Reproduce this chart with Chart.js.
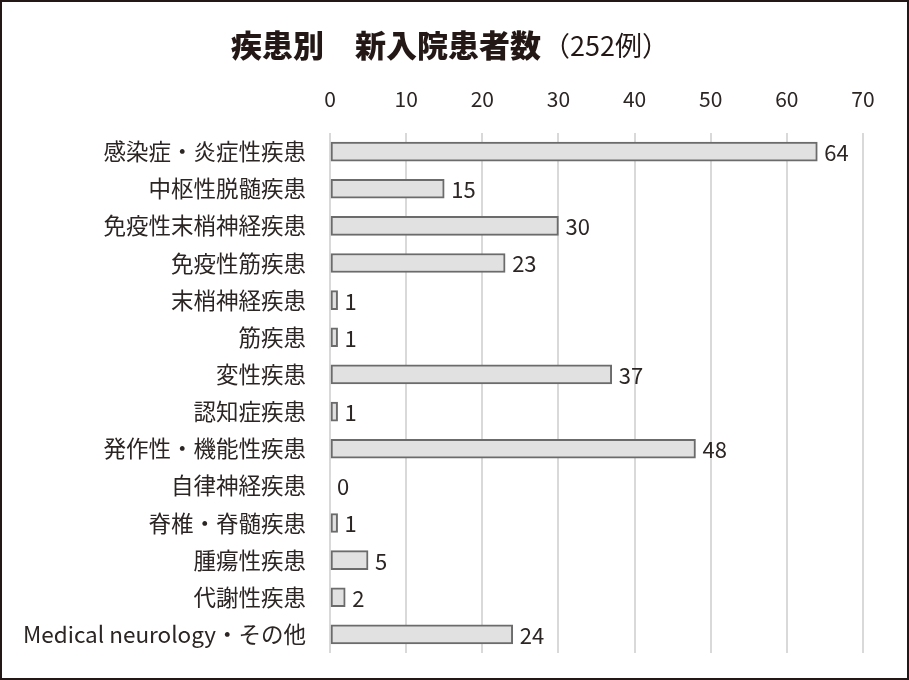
<!DOCTYPE html>
<html>
<head>
<meta charset="utf-8">
<script src="https://cdn.jsdelivr.net/npm/chart.js@4/dist/chart.umd.min.js"></script>
<style>
html,body{margin:0;padding:0;background:#fff;}
#wrap{width:909px;height:680px;position:relative;}
</style>
</head>
<body>
<div id="wrap"><canvas id="c" width="909" height="680"></canvas></div>
<script>
const categories = [
  "感染症・炎症性疾患","中枢性脱髄疾患","免疫性末梢神経疾患","免疫性筋疾患",
  "末梢神経疾患","筋疾患","変性疾患","認知症疾患","発作性・機能性疾患",
  "自律神経疾患","脊椎・脊髄疾患","腫瘍性疾患","代謝性疾患","Medical neurology・その他"
];
const patients = [64,15,30,23,1,1,37,1,48,0,1,5,2,24];
const tickValues = [0,10,20,30,40,50,60,70];
const titleBold = "疾患別　新入院患者数";
const titleNormal = "（252例）";

const FONT = "'Noto Sans CJK JP','Noto Sans',sans-serif";
const TXT = "#2b2523";

const titlePlugin = {
  id:'titleP',
  afterDraw(chart){
    const ctx = chart.ctx;
    ctx.save();
    ctx.fillStyle = "#231815";
    ctx.textBaseline = "middle";
    ctx.textAlign = "left";
    ctx.font = "900 31px " + FONT;
    const w1 = ctx.measureText(titleBold).width;
    ctx.font = "27px " + FONT;
    const w2 = ctx.measureText(titleNormal).width;
    let x = 449 - (w1 + w2)/2;
    ctx.font = "900 31px " + FONT;
    ctx.fillText(titleBold, x, 45);
    ctx.font = "27px " + FONT;
    ctx.fillText(titleNormal, x + w1 + 2, 46);
    ctx.strokeStyle = "#231815";
    ctx.lineWidth = 2;
    ctx.strokeRect(1, 1, 907, 678);
    ctx.restore();
  }
};

const labelPlugin = {
  id:'valLabels',
  afterDatasetsDraw(chart){
    const ctx = chart.ctx;
    const meta = chart.getDatasetMeta(0);
    ctx.save();
    ctx.fillStyle = TXT;
    ctx.font = "22px " + FONT;
    ctx.textBaseline = "middle";
    ctx.textAlign = "left";
    meta.data.forEach((el, i) => {
      ctx.fillText(String(patients[i]), el.x + 7, el.y + 1);
    });
    ctx.restore();
  }
};

new Chart(document.getElementById('c'), {
  type: 'bar',
  data: {
    labels: categories,
    datasets: [{
      data: patients,
      backgroundColor: '#e1e1e1',
      borderColor: '#6b6b6b',
      borderWidth: ctx => patients[ctx.dataIndex] === 0 ? 0 : 2,
      borderSkipped: false,
      barThickness: 19
    }]
  },
  options: {
    indexAxis: 'y',
    responsive: false,
    animation: false,
    events: [],
    layout: { padding: { top: 80, right: 46, bottom: 27, left: 0 } },
    plugins: { legend: { display: false }, tooltip: { enabled: false }, title: { display: false } },
    scales: {
      x: {
        position: 'top',
        min: 0, max: 70,
        afterBuildTicks: axis => { axis.ticks = tickValues.map(v => ({ value: v })); },
        afterFit: axis => { axis.height = 53; },
        grid: { color: '#d9d9d9', lineWidth: 2, drawTicks: false },
        border: { display: false },
        ticks: { color: TXT, font: { family: FONT, size: 21 }, padding: 21 }
      },
      y: {
        afterFit: axis => { axis.width = 330; axis.paddingTop = 0; axis.paddingBottom = 0; },
        grid: { display: false, drawTicks: false },
        border: { display: false },
        ticks: { color: TXT, font: { family: FONT, size: 22.5 }, padding: 24 }
      }
    }
  },
  plugins: [titlePlugin, labelPlugin]
});
</script>
</body>
</html>
